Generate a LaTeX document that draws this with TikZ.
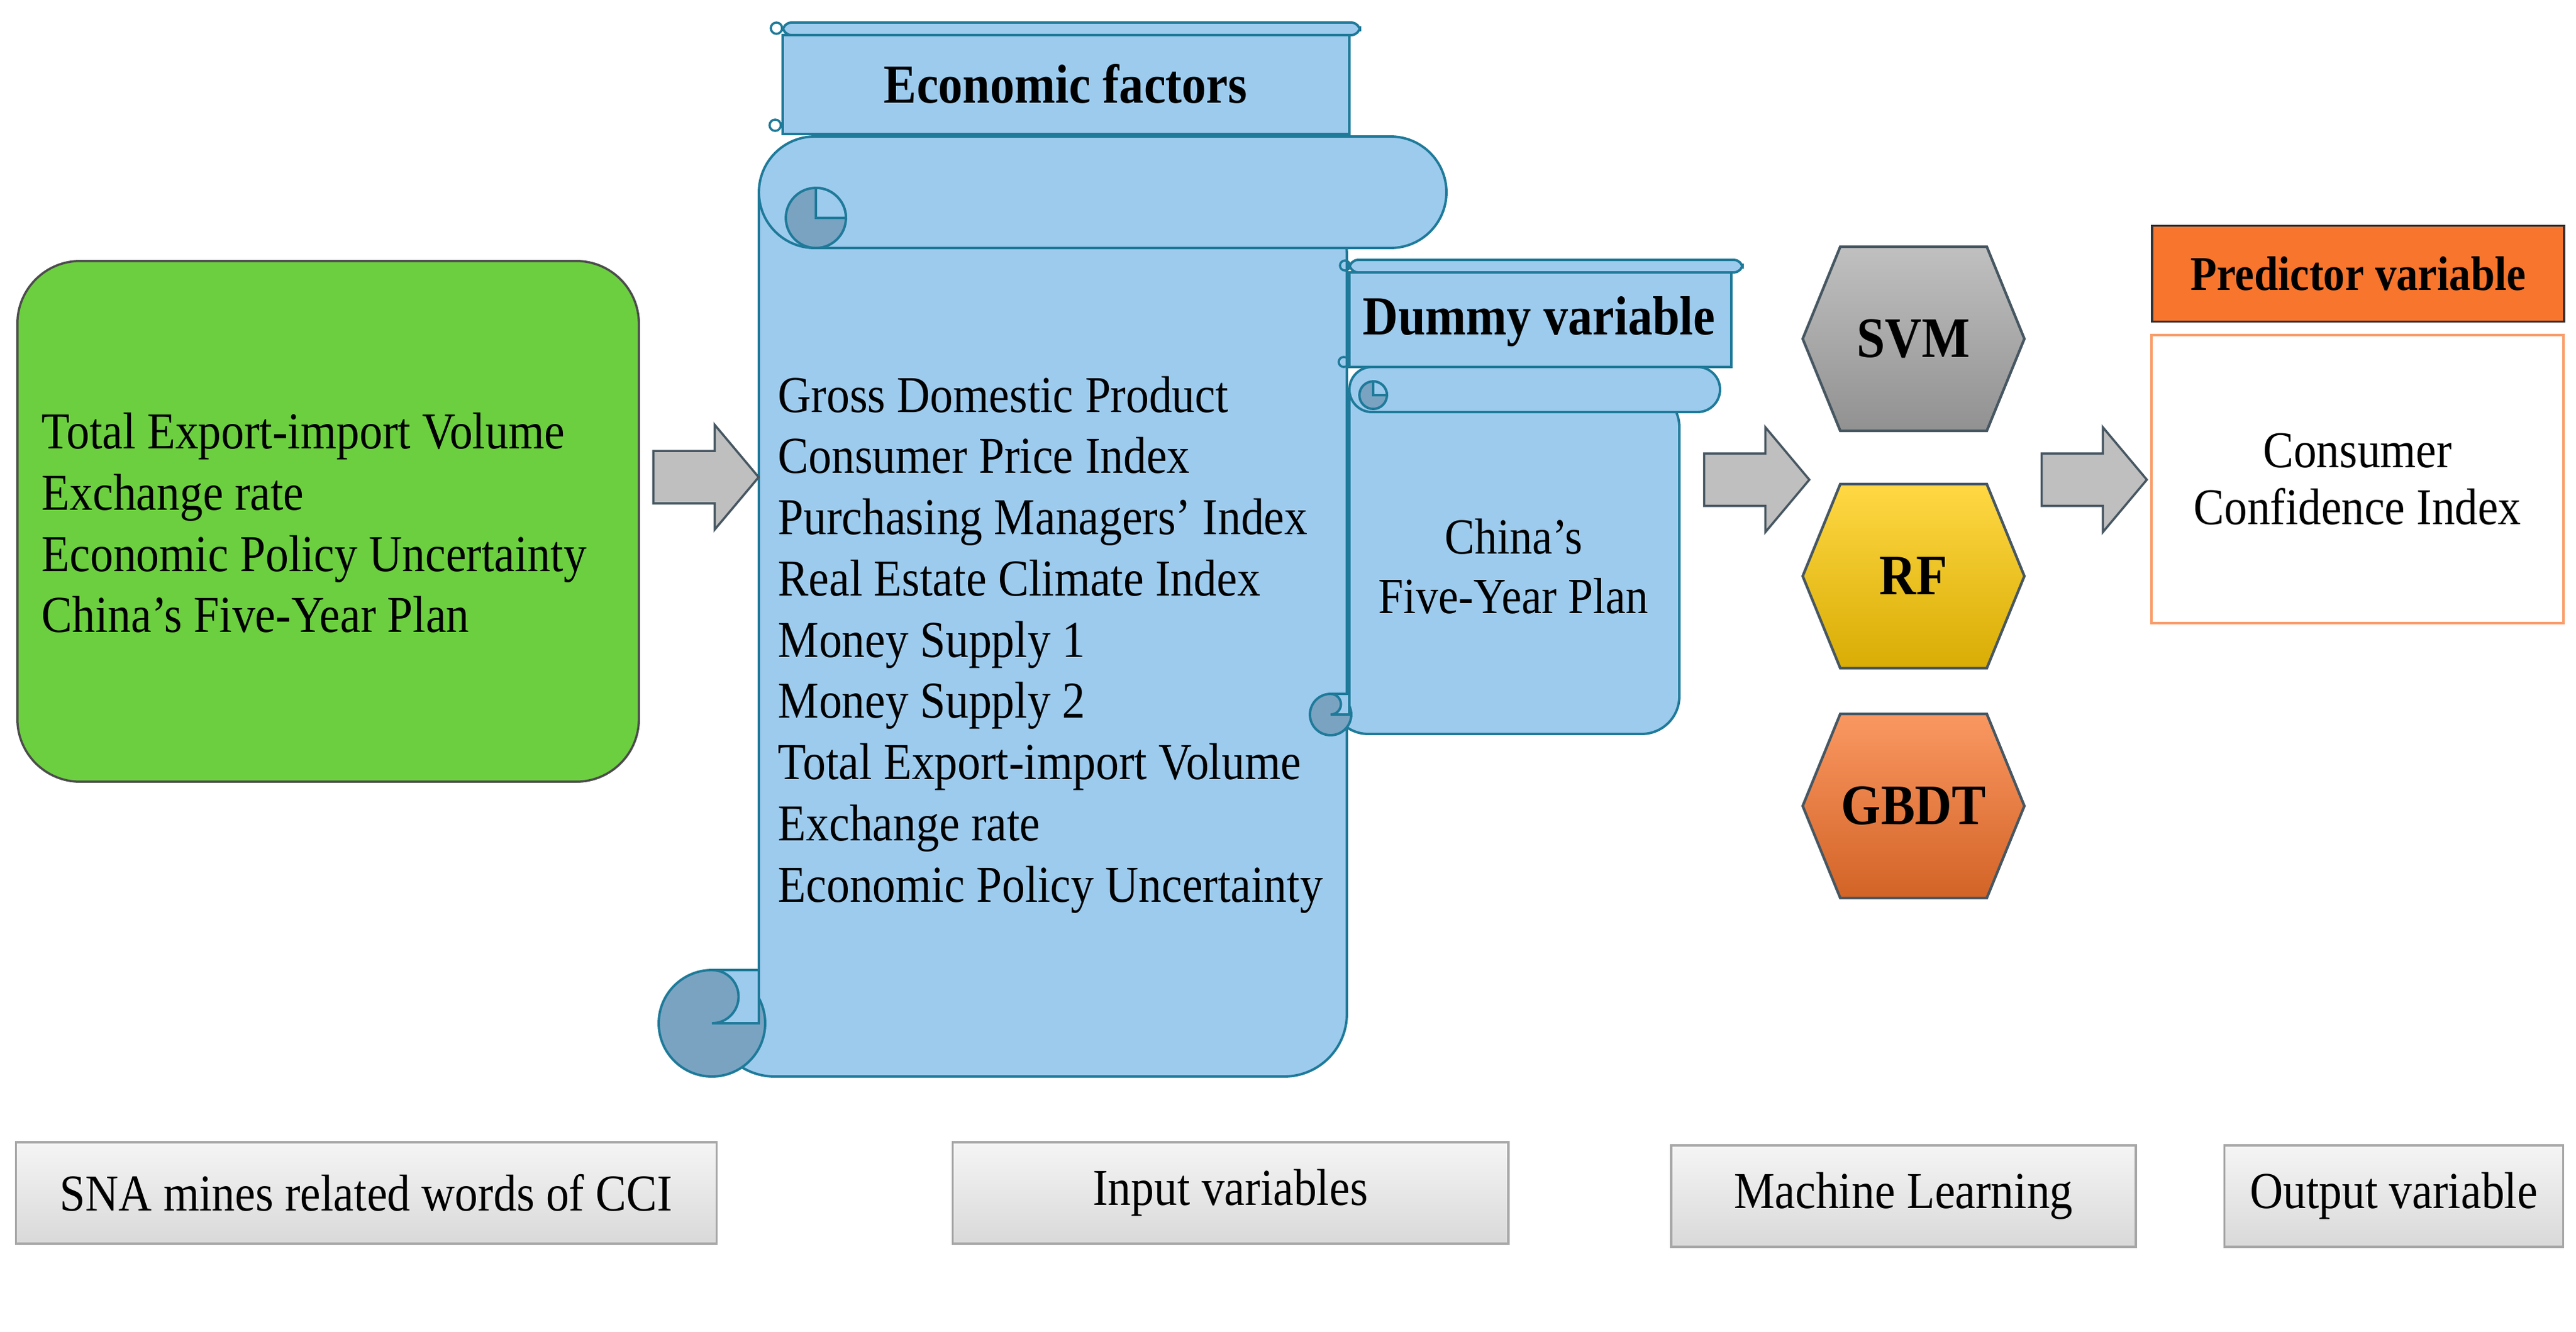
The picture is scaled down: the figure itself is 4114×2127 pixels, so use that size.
\documentclass[tikz,border=0pt]{standalone}
\usepackage{fontspec}
\setmainfont{Liberation Serif}[FakeStretch=0.89]
\usetikzlibrary{shapes.arrows,positioning}

\definecolor{LeafGreen}{HTML}{6CCF3F}
\definecolor{ScrollBlue}{HTML}{9DCBEE}
\definecolor{ScrollEdge}{HTML}{1F7A99}
\definecolor{CurlBlue}{HTML}{7AA3C2}
\definecolor{HexOrange}{HTML}{F8752D}
\definecolor{HexYellow}{HTML}{FFCB05}
\definecolor{HexGray}{HTML}{ABABAB}

\tikzset{
  scroll/.style={fill=ScrollBlue, draw=ScrollEdge, line width=1.1pt},
  curl/.style={fill=CurlBlue, draw=ScrollEdge, line width=1.1pt},
  bigarrow/.style={single arrow, draw=black!70!cyan, fill=gray!50, line width=1pt,
    minimum height=1.68cm, inner sep=0.40cm, single arrow head extend=0.42cm,
    single arrow tip angle=100},
  hexa/.style={draw=black!70!cyan, line width=1.2pt},
  hexlabel/.style={font=\fontsize{26}{30}\selectfont\bfseries},
  stage/.style={draw=gray!70, line width=1pt, top color=gray!8, bottom color=gray!30,
    font=\fontsize{23.5}{28}\selectfont, inner sep=0pt},
  list/.style={align=left, anchor=north west, inner sep=0pt,
    font=\fontsize{23.5}{27.8}\selectfont},
}

\begin{document}
\begin{tikzpicture}[x=0.01cm, y=-0.01cm]
\useasboundingbox (0,0) rectangle (4114,2127);

% source words
\node[fill=LeafGreen, draw=black!70, line width=1pt, rounded corners=1cm,
  minimum width=9.92cm, minimum height=8.31cm, anchor=north west] (sna) at (26,415) {};
\node[list, anchor=west] (snatext) at (66,835)
  {Total Export-import Volume\\Exchange rate\\Economic Policy Uncertainty\\China's Five-Year Plan};

% main scroll
\filldraw[scroll] (1250,56) rectangle (2155,214);
\filldraw[scroll, rounded corners=4pt] (1250,36) rectangle (2172,56);
\draw[ScrollEdge, line width=1pt] (1240,45) circle (9) (1238,200) circle (9);
\filldraw[scroll, rounded corners=1cm] (1212,307) -- (2151,307) -- (2151,1719) -- (1137,1719)
  [sharp corners] -- (1137,1634) -- (1212,1634) -- cycle;
\filldraw[scroll, rounded corners=0.89cm] (1212,218) rectangle (2310,396);
\filldraw[curl] (1303,348) circle (48);
\filldraw[scroll] (1303,348) -- (1351,348) arc (0:-90:48) -- cycle;
\filldraw[curl] (1137,1634) circle (85);
\filldraw[scroll] (1137,1549) arc (-90:90:42.5) -- (1212,1634) -- (1212,1549) -- cycle;
\node[font=\fontsize{25}{30}\selectfont\bfseries] (econ) at (1702,134) {Economic factors};
\node[list] (factors) at (1242,600) {Gross Domestic Product\\Consumer Price Index\\
  Purchasing Managers' Index\\Real Estate Climate Index\\Money Supply 1\\Money Supply 2\\
  Total Export-import Volume\\Exchange rate\\Economic Policy Uncertainty};

% dummy scroll
\filldraw[scroll] (2155,435) rectangle (2765,586);
\filldraw[scroll, rounded corners=4pt] (2155,415) rectangle (2783,435);
\draw[ScrollEdge, line width=1pt] (2148,424) circle (8) (2146,578) circle (8);
\filldraw[scroll, rounded corners=0.6cm] (2155,622) -- (2682,622) -- (2682,1172) -- (2125,1172)
  [sharp corners] -- (2125,1141) -- (2155,1141) -- cycle;
\filldraw[scroll, rounded corners=0.36cm] (2155,586) rectangle (2747,658);
\filldraw[curl] (2193,631) circle (22);
\filldraw[scroll] (2193,631) -- (2215,631) arc (0:-90:22) -- cycle;
\filldraw[curl] (2125,1141) circle (33);
\filldraw[scroll] (2125,1108) arc (-90:90:16.5) -- (2155,1141) -- (2155,1108) -- cycle;
\node[font=\fontsize{25}{30}\selectfont\bfseries] (dummy) at (2458,513) {Dummy variable};
\node[align=center, font=\fontsize{23}{27}\selectfont] (plan) at (2417,904) {China's\\Five-Year Plan};

% models
\foreach \name/\y/\col/\txt in {svm/541/HexGray/SVM, rf/920/HexYellow/RF, gbdt/1287/HexOrange/GBDT}{
  \filldraw[hexa, top color=\col!75, bottom color=\col!85!black]
    (3056,\y) ++(-177,0) -- ++(60,-147) -- ++(234,0) -- ++(60,147) -- ++(-60,147) -- ++(-234,0) -- cycle;
  \node[hexlabel] (\name) at (3056,\y) {\txt};
}

% output
\node[fill=HexOrange, draw=black!80, line width=1pt, minimum width=6.58cm, minimum height=1.53cm,
  font=\fontsize{22}{26}\selectfont\bfseries] (pred) at (3766,437) {Predictor variable};
\node[draw=HexOrange!70, line width=1.2pt, minimum width=6.57cm, minimum height=4.59cm,
  align=center, font=\fontsize{23.4}{26}\selectfont] (cci) at (3765,765) {Consumer\\Confidence Index};

% big arrows
\node[bigarrow] (arr1) at (1110,762) {};
\node[bigarrow] (arr2) at (2788,766) {};
\node[bigarrow] (arr3) at (3327,766) {};

% stages
\node[stage, minimum width=11.18cm, minimum height=1.62cm] (st1) at (585,1905) {SNA mines related words of CCI};
\node[stage, minimum width=8.87cm, minimum height=1.62cm] (st2) at (1965,1905) {Input variables};
\node[stage, minimum width=7.42cm, minimum height=1.62cm] (st3) at (3040,1910) {Machine Learning};
\node[stage, minimum width=5.41cm, minimum height=1.62cm] (st4) at (3823,1910) {Output variable};
\end{tikzpicture}
\end{document}
